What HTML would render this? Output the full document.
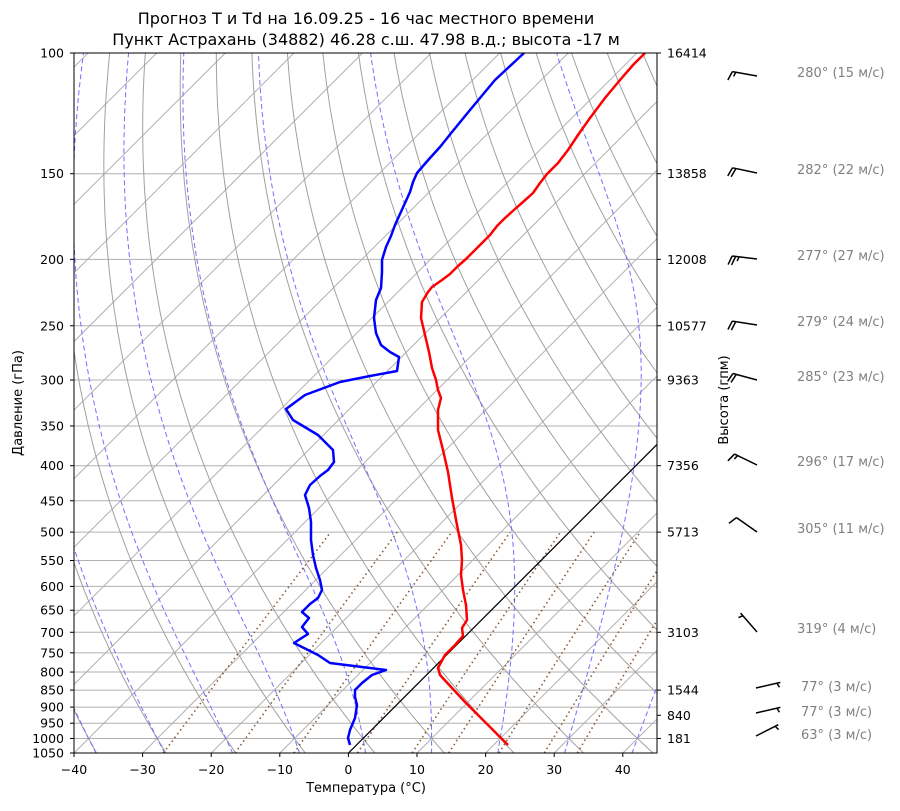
<!DOCTYPE html>
<html><head><meta charset="utf-8">
<style>
html,body{margin:0;padding:0;background:#fff;}
svg text{font-family:"DejaVu Sans","Liberation Sans",sans-serif;}
</style></head>
<body>
<svg id="s" width="900" height="806" viewBox="0 0 900 806" xmlns="http://www.w3.org/2000/svg">
<defs><clipPath id="c"><rect x="74" y="53" width="583" height="700"/></clipPath></defs>
<g id="grid" clip-path="url(#c)"></g>
<g id="prof" clip-path="url(#c)"></g>
<rect x="74" y="53" width="583" height="700" fill="none" stroke="#000" stroke-width="1"/>
<g id="ax"></g>
<text x="366" y="24" font-size="16" text-anchor="middle">Прогноз T и Td на 16.09.25 - 16 час местного времени</text>
<text x="366" y="45" font-size="16" text-anchor="middle">Пункт Астрахань (34882) 46.28 с.ш. 47.98 в.д.; высота -17 м</text>
<text x="366" y="792" font-size="13" text-anchor="middle">Температура (°C)</text>
<text transform="translate(22,403) rotate(-90)" font-size="13" text-anchor="middle">Давление (гПа)</text>
<text transform="translate(728,400) rotate(-90)" font-size="13" text-anchor="middle">Высота (гпм)</text>
</svg>
<script>
var NS="http://www.w3.org/2000/svg";
function Y(p){return 53+700*Math.log(p/100)/Math.log(10.5);}
function X(T,p){return 348.5+6.86*T+(753-Y(p));}
function el(parent,tag,attrs,txt){var e=document.createElementNS(NS,tag);for(var k in attrs)e.setAttribute(k,attrs[k]);if(txt!==undefined)e.textContent=txt;parent.appendChild(e);return e;}
var g=document.getElementById('grid'),ax=document.getElementById('ax'),pr=document.getElementById('prof');
function poly(parent,pts,st){el(parent,'polyline',Object.assign({points:pts.map(function(q){return q[0].toFixed(1)+','+q[1].toFixed(1)}).join(' '),fill:'none'},st));}
var ticks=[100,150,200,250,300,350,400,450,500,550,600,650,700,750,800,850,900,950,1000,1050];
ticks.forEach(function(p){var y=Y(p);el(g,'line',{x1:74,x2:657,y1:y,y2:y,stroke:'#b0b0b0','stroke-width':1});});
for(var T=-150;T<=50;T+=10){poly(g,[[X(T,1050),Y(1050)],[X(T,100),Y(100)]],{stroke:'#b0b0b0','stroke-width':1});}
var ps=[];for(var p=1050;p>=99;p-=5)ps.push(p);
for(var t0=-40;t0<=200;t0+=10){var th=t0+273.15;poly(g,ps.map(function(p){return [X(th*Math.pow(p/1000,0.2857)-273.15,p),Y(p)]}),{stroke:'#a0a0a0','stroke-width':1});}
function es(T){return 6.112*Math.exp(17.67*T/(T+243.5));}
function moistLapse(T,p){var Tk=T+273.15,e=es(T),rs=0.622*e/(p-e);var Lv=2.501e6,Rd=287.04,cp=1005.7,eps=0.622;
 var num=(Rd*Tk+Lv*rs)/p, den=cp+(Lv*Lv*rs*eps)/(Rd*Tk*Tk);return num/den;}
function moist(t0){var up=[],dn=[];var T=t0,p=1000,dp=2;
 while(p>=99){up.push([X(T,p),Y(p)]);T-=moistLapse(T,p)*dp;p-=dp;}
 T=t0;p=1000;while(p<=1052){dn.push([X(T,p),Y(p)]);T+=moistLapse(T,p)*dp;p+=dp;}
 return dn.reverse().concat(up);}
for(var t0=-60;t0<=40;t0+=10){poly(g,moist(t0),{stroke:'#7070ff','stroke-width':1,'stroke-dasharray':'5,3'});}
[0.0004,0.001,0.002,0.004,0.007,0.01,0.016,0.024,0.032].forEach(function(w){var pts=[];for(var p=1050;p>=500;p-=10){var e=w*p/(0.622+w),l=Math.log(e/6.112),Td=243.5*l/(17.67-l);pts.push([X(Td,p),Y(p)]);}
 poly(g,pts,{stroke:'#8b5a3c','stroke-width':1.6,'stroke-dasharray':'1.5,3.2'});});
poly(g,[[X(0,1050),Y(1050)],[X(0,100),Y(100)]],{stroke:'#000','stroke-width':1.2});
var red=[[508,745],[495,732],[480,717],[465,702],[452,688],[440,675],[438,668],[445,655],[455,645],[463,636],[462,628],[467,620],[466,605],[463,590],[461,575],[462,560],[461,545],[457,525],[452,498],[448,472],[443,450],[438,430],[438,410],[441,398],[438,390],[436,380],[432,368],[429,352],[425,335],[421,318],[422,302],[428,292],[432,287],[442,280],[450,274],[458,266],[466,259],[475,250],[482,243],[490,235],[497,226],[505,218],[515,209],[523,202],[533,193],[540,183],[547,174],[558,163],[568,150],[578,135],[590,118],[605,98],[620,80],[633,65],[645,53]];
var blue=[[350,745],[348,738],[350,730],[355,718],[357,705],[355,697],[355,690],[362,683],[372,675],[386,670],[330,663],[318,655],[294,643],[308,634],[302,627],[309,618],[302,612],[310,604],[318,598],[322,590],[320,580],[316,568],[313,555],[311,540],[311,522],[309,508],[305,495],[310,485],[320,476],[328,470],[334,462],[333,450],[318,435],[293,420],[286,409],[305,395],[340,382],[370,376],[397,371],[399,357],[390,352],[381,345],[376,333],[374,318],[376,300],[381,288],[382,272],[382,260],[386,247],[391,236],[395,225],[400,214],[405,203],[410,192],[413,182],[417,173],[423,166],[430,158],[440,147],[452,132],[470,110],[495,80],[524,53]];
poly(pr,red,{stroke:'#ff0000','stroke-width':2.5,'stroke-linejoin':'round'});
poly(pr,blue,{stroke:'#0000ff','stroke-width':2.5,'stroke-linejoin':'round'});
ticks.forEach(function(p){var y=Y(p);el(ax,'line',{x1:70,x2:74,y1:y,y2:y,stroke:'#000'});el(ax,'text',{x:64,y:y+4.5,'font-size':12.5,'text-anchor':'end'},p);});
for(var i=0;i<=8;i++){var x=74+68.6*i;var v=-40+10*i;el(ax,'line',{x1:x,x2:x,y1:753,y2:757,stroke:'#000'});el(ax,'text',{x:x,y:774,'font-size':12.5,'text-anchor':'middle'},(v<0?'\u2212'+(-v):v));}
[[100,16414],[150,13858],[200,12008],[250,10577],[300,9363],[400,7356],[500,5713],[700,3103],[850,1544],[925,840],[1000,181]].forEach(function(a){var y=Y(a[0]);el(ax,'line',{x1:657,x2:661,y1:y,y2:y,stroke:'#000'});el(ax,'text',{x:667,y:y+4.5,'font-size':12.5},a[1]);});
var winds=[[72,280,15],[169,282,22],[255,277,27],[321,279,24],[376,285,23],[461,296,17],[528,305,11],[628,319,4],[686,77,3],[711,77,3],[734,63,3]];
winds.forEach(function(w){var y=w[0],d=w[1]*Math.PI/180,s=w[2];var ox=757,oy=y+4;if(w[1]<100){ox=756;oy=y+2;}
 var ux=Math.sin(d),uy=-Math.cos(d),L=25;var ex=ox+ux*L,ey=oy+uy*L;
 el(ax,'line',{x1:ox,y1:oy,x2:ex,y2:ey,stroke:'#000','stroke-width':1.5});
 var px=-uy,py=ux; if(w[1]>=100){px=uy;py=-ux;}
 var full=Math.floor(s/10),half=(s%10)>=5?1:0;if(s<5)half=1;var pos=0;
 for(var k=0;k<full;k++){var bx=ex-ux*pos,by=ey-uy*pos;el(ax,'line',{x1:bx,y1:by,x2:bx+px*9+ux*3,y2:by+py*9+uy*3,stroke:'#000','stroke-width':1.5});pos+=3.5;}
 if(half){if(full==0)pos=3.5;var bx=ex-ux*pos,by=ey-uy*pos;el(ax,'line',{x1:bx,y1:by,x2:bx+px*4.5+ux*1.5,y2:by+py*4.5+uy*1.5,stroke:'#000','stroke-width':1.5});}
 var tx=w[1]<100?801:797;el(ax,'text',{x:tx,y:y+5,'font-size':13,fill:'#808080'},w[1]+'° ('+s+' м/с)');});
</script>
</body></html>
